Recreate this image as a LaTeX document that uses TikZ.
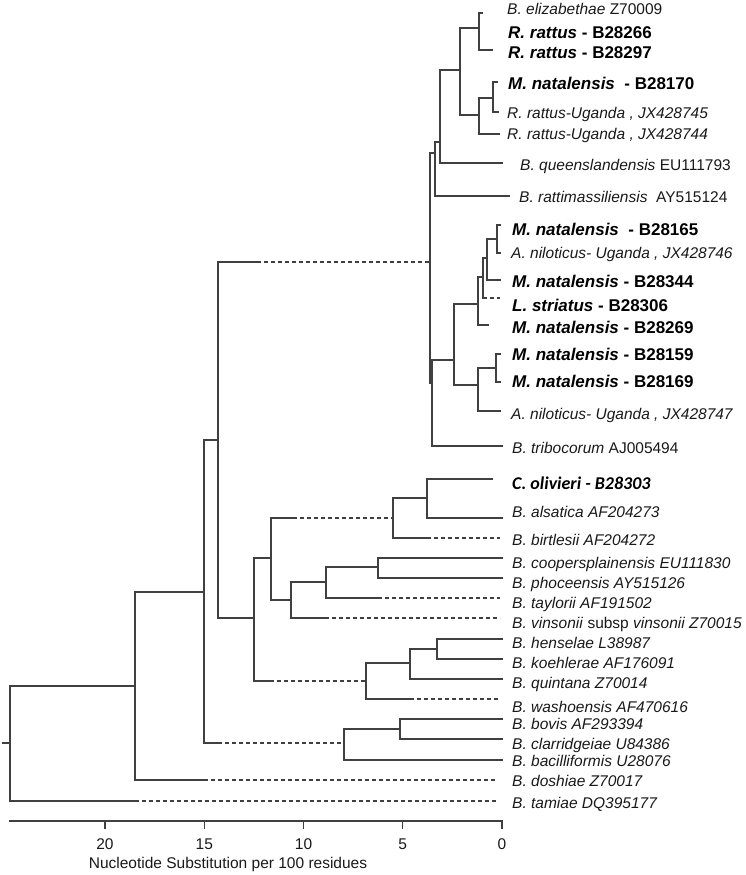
\documentclass[tikz,border=0pt]{standalone}
\usepackage{fontspec}
\setmainfont{Liberation Sans}
\newfontfamily\olivierifont{Carlito}
\frenchspacing

\begin{document}
\begin{tikzpicture}[
            x=1pt, y=-1pt,
            branch/.style={draw=black!75, line width=1.2pt, line cap=rect},
            missing/.style={draw=black!75, line width=1.2pt, dash pattern=on 4pt off 3pt},
            leaf/.style={anchor=base west, inner sep=0pt, yshift=-5.5pt, text=black!90, font=\fontsize{15.5}{18}\selectfont},
            refleaf/.style={leaf, font=\fontsize{15.5}{18}\selectfont\itshape},
            strain/.style={leaf, yshift=-0.6pt, text=black, font=\fontsize{17}{20}\selectfont\bfseries},
            axislabel/.style={inner sep=0pt, text=black!90, font=\fontsize{15.5}{18}\selectfont}
        ]
        \useasboundingbox (0,0) rectangle (746,875);

        % Vertical connectors (x / top / bottom)
        \foreach \x/\ya/\yb in {10/686/801, 135/592/780, 204/440/743, 218/262/618,
                254/558/681, 271/518/600, 393/498/538, 427/479/518, 291/582/618,
                326/567/598, 378/558/578, 366/663/699, 410/649/679, 437/639/659,
                344/729/760, 400/719/739,
                430/153/383, 435/142/196, 440/70/163, 460/28/115, 479/13/50,
                479/98/134, 493/82/112, 432/360/446, 454/304/385, 478/277/325,
                483/258/298, 487/239/280, 497/225/253, 478/368/411, 496/354/382}
            \draw[branch] (\x,\ya) -- (\x,\yb);

        % Solid branches (from / to / y)
        \foreach \xa/\xb/\y in {3/10/743, 10/135/686, 10/135/801, 135/204/592, 135/204/780,
                204/218/440, 204/218/743, 218/257/262, 218/254/618, 254/271/558,
                254/270/681, 271/293/518, 271/291/600, 393/427/498, 393/427/538,
                427/492/479, 427/502/518, 291/326/582, 291/325/618, 326/378/567,
                326/378/598, 378/502/558, 378/502/578, 366/410/663, 366/410/699,
                410/437/649, 410/502/679, 437/502/639, 437/502/659, 344/400/729,
                344/502/760, 400/502/719, 400/502/739}
            \draw[branch] (\xa,\y) -- (\xb,\y);

        % Solid branches, rodent clade
        \foreach \xa/\xb/\y in {430/435/153, 430/432/383, 432/502/446, 432/454/360,
                435/440/142, 435/509/196, 440/460/70, 440/502/163, 460/479/28,
                460/479/115, 479/482/13, 479/492/50, 479/493/98, 479/499/134,
                493/497/82, 493/498/112, 454/478/304, 454/478/385, 478/483/277,
                478/488/325, 483/487/258, 487/497/239, 487/500/280, 497/500/225,
                497/500/253, 478/496/368, 478/500/411, 496/500/354, 496/500/382}
            \draw[branch] (\xa,\y) -- (\xb,\y);

        % Dashed branches
        \foreach \xa/\xb/\y in {135/497/801, 204/497/780, 218/344/743, 257/430/262,
                270/366/681, 293/393/518, 427/500/538, 325/500/618, 378/500/598,
                410/500/699, 483/500/298}
            \draw[missing] (\xa,\y) -- (\xb,\y);

        % Rodent clade labels
        \node[leaf] (eliz) at (507,9) {\textit{B. elizabethae} Z70009};
        \node[strain] (rr266) at (508,32) {\textit{R. rattus} - B28266};
        \node[strain] (rr297) at (508,52) {\textit{R. rattus} - B28297};
        \node[strain] (mn170) at (508,83) {\textit{M. natalensis}\ \ - B28170};
        \node[refleaf] (rru745) at (507,113) {R. rattus-Uganda , JX428745};
        \node[refleaf] (rru744) at (507,134) {R. rattus-Uganda , JX428744};
        \node[leaf] (queens) at (520,165) {\textit{B. queenslandensis} EU111793};
        \node[leaf] (rattim) at (519,197) {\textit{B. rattimassiliensis}\ \ AY515124};
        \node[strain] (mn165) at (512,229) {\textit{M. natalensis}\ \ - B28165};
        \node[refleaf] (anu746) at (511,253) {A. niloticus- Uganda , JX428746};
        \node[strain] (mn344) at (512,281) {\textit{M. natalensis} - B28344};
        \node[strain] (ls306) at (512,305) {\textit{L. striatus} - B28306};
        \node[strain] (mn269) at (512,327) {\textit{M. natalensis} - B28269};
        \node[strain] (mn159) at (512,354) {\textit{M. natalensis} - B28159};
        \node[strain] (mn169) at (512,381) {\textit{M. natalensis} - B28169};
        \node[refleaf] (anu747) at (511,414) {A. niloticus- Uganda , JX428747};
        \node[leaf] (tribo) at (512,448) {\textit{B. tribocorum} AJ005494};

        % Other Bartonella labels
        \node[strain, font=\olivierifont\fontsize{18}{21}\selectfont\bfseries\itshape] (co303) at (512,483) {C. olivieri - B28303};
        \foreach \y/\name/\lbl in {512/alsat/{B. alsatica AF204273}, 540/birtl/{B. birtlesii AF204272},
                563/coop/{B. coopersplainensis EU111830}, 583/phoc/{B. phoceensis AY515126},
                603/tayl/{B. taylorii AF191502}, 643/hens/{B. henselae L38987},
                663/koeh/{B. koehlerae AF176091}, 683/quin/{B. quintana Z70014},
                707/wash/{B. washoensis AF470616}, 724/bovis/{B. bovis AF293394},
                744/clar/{B. clarridgeiae U84386}, 761/bacil/{B. bacilliformis U28076},
                781/dosh/{B. doshiae Z70017}, 803/tam/{B. tamiae DQ395177}}
            \node[refleaf] (\name) at (512,\y) {\lbl};
        \node[refleaf] (vins) at (512,623) {B. vinsonii \textup{subsp} vinsonii Z70015};

        % Scale axis
        \draw[branch] (10,821) -- (502,821);
        \foreach \d in {0,5,...,20}
            \draw[branch] ({502-19.85*\d},821) -- ({502-19.85*\d},828);
        \foreach \d in {0,5,...,20}
            \node[axislabel] (tick\d) at ({502-19.85*\d},844) {\d};
        \node[axislabel] (xtitle) at (228,864) {Nucleotide Substitution per 100 residues};
\end{tikzpicture}
\end{document}
